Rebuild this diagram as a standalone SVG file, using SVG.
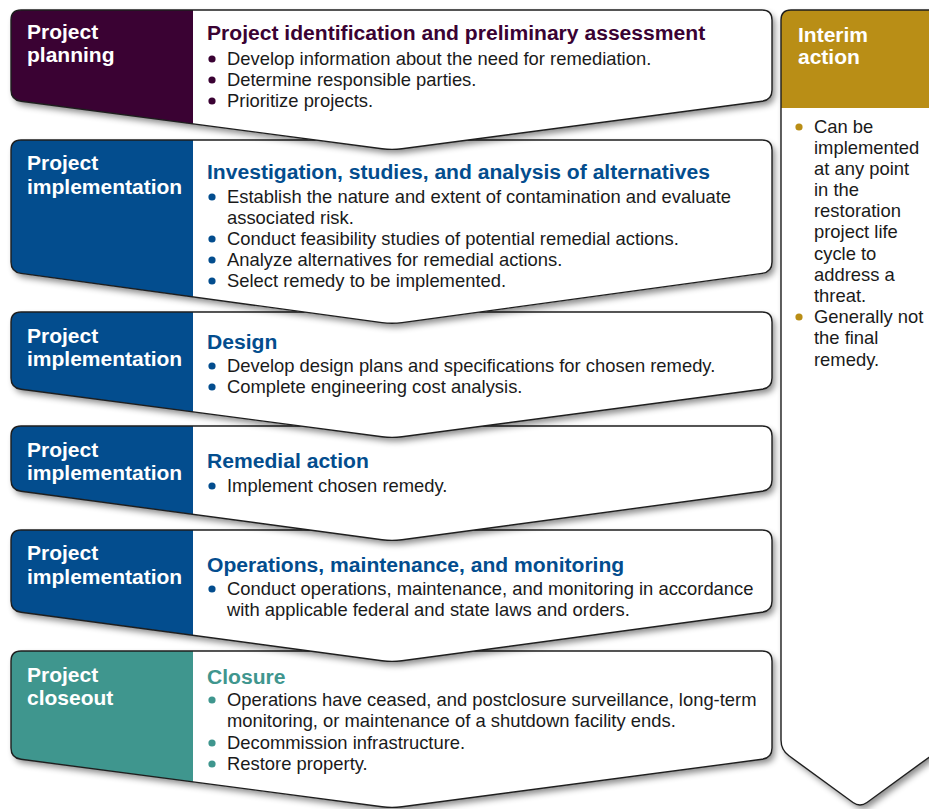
<svg xmlns="http://www.w3.org/2000/svg" width="929" height="809" viewBox="0 0 929 809">
<style>
text{font-family:"Liberation Sans",Arial,sans-serif}
.lbl{font-size:21px;font-weight:bold;fill:#ffffff}
.ttl{font-size:21.1px;font-weight:bold}
.txt{font-size:18.4px;fill:#1a1a1a}
.bg{fill:#ffffff;filter:url(#sh)}
.ol{fill:none;stroke:#1e1e1e;stroke-width:1.4}
.pu{fill:#3a0233}
.bl{fill:#034d8e}
.te{fill:#3f968e}
.go{fill:#b98e16}
</style>
<defs>
<filter id="sh" x="-10%" y="-10%" width="130%" height="140%">
<feDropShadow dx="3" dy="4" stdDeviation="3" flood-color="#000" flood-opacity="0.45"/>
</filter>
<path id="p1" d="M11,20 Q11,10 21,10 L762,10 Q772,10 772,20 L772,90 Q772,100 762,101.3 L402,148.7 Q392,150 382,148.7 L21,101.3 Q11,100 11,90 Z"/>
<path id="p2" d="M11,150 Q11,140 21,140 L762,140 Q772,140 772,150 L772,262 Q772,272 762,273.4 L402,322.6 Q392,324 382,322.6 L21,273.4 Q11,272 11,262 Z"/>
<path id="p3" d="M11,322 Q11,312 21,312 L762,312 Q772,312 772,322 L772,378 Q772,388 762,389.3 L402,436.7 Q392,438 382,436.7 L21,389.3 Q11,388 11,378 Z"/>
<path id="p4" d="M11,436 Q11,426 21,426 L762,426 Q772,426 772,436 L772,480 Q772,490 762,491.3 L402,539.7 Q392,541 382,539.7 L21,491.3 Q11,490 11,480 Z"/>
<path id="p5" d="M11,540 Q11,530 21,530 L762,530 Q772,530 772,540 L772,601 Q772,611 762,612.3 L402,660.7 Q392,662 382,660.7 L21,612.3 Q11,611 11,601 Z"/>
<path id="p6" d="M11,661 Q11,651 21,651 L762,651 Q772,651 772,661 L772,748 Q772,758 762,759.3 L402,806.7 Q392,808 382,806.7 L21,759.3 Q11,758 11,748 Z"/>
<path id="p7" d="M781,20 Q781,10 791,10 L929,10 Q939,10 939,20 L939,750 L867,802.5 Q860,807.5 853,802.5 L789,755.8 Q781,750 781,740 Z"/>
<clipPath id="k1"><use href="#p1"/></clipPath>
<clipPath id="k2"><use href="#p2"/></clipPath>
<clipPath id="k3"><use href="#p3"/></clipPath>
<clipPath id="k4"><use href="#p4"/></clipPath>
<clipPath id="k5"><use href="#p5"/></clipPath>
<clipPath id="k6"><use href="#p6"/></clipPath>
<clipPath id="k7"><use href="#p7"/></clipPath>
</defs>

<g id="connectors"/>

<g id="interim-action">
<use href="#p7" class="bg"/>
<rect class="go" x="770" y="0" width="180" height="108" clip-path="url(#k7)"/>
<use href="#p7" class="ol"/>
<text class="lbl" x="798" y="42">Interim</text>
<text class="lbl" x="798" y="64">action</text>
<circle class="go" cx="799" cy="127" r="3.6"/>
<text class="txt" x="814" y="133">Can be</text>
<text class="txt" x="814" y="154">implemented</text>
<text class="txt" x="814" y="175">at any point</text>
<text class="txt" x="814" y="196">in the</text>
<text class="txt" x="814" y="217">restoration</text>
<text class="txt" x="814" y="238">project life</text>
<text class="txt" x="814" y="260">cycle to</text>
<text class="txt" x="814" y="281">address a</text>
<text class="txt" x="814" y="302">threat.</text>
<circle class="go" cx="799" cy="317" r="3.6"/>
<text class="txt" x="814" y="323">Generally not</text>
<text class="txt" x="814" y="344">the final</text>
<text class="txt" x="814" y="366">remedy.</text>
</g>

<g id="closure">
<use href="#p6" class="bg"/>
<rect class="te" x="0" y="651" width="193" height="158" clip-path="url(#k6)"/>
<use href="#p6" class="ol"/>
<text class="lbl" x="27" y="682">Project</text>
<text class="lbl" x="27" y="705">closeout</text>
<text class="ttl te" x="207" y="684">Closure</text>
<circle class="te" cx="212" cy="700" r="3.6"/>
<text class="txt" x="227" y="706">Operations have ceased, and postclosure surveillance, long-term</text>
<text class="txt" x="227" y="727">monitoring, or maintenance of a shutdown facility ends.</text>
<circle class="te" cx="212" cy="743" r="3.6"/>
<text class="txt" x="227" y="749">Decommission infrastructure.</text>
<circle class="te" cx="212" cy="764" r="3.6"/>
<text class="txt" x="227" y="770">Restore property.</text>
</g>

<g id="operations">
<use href="#p5" class="bg"/>
<rect class="bl" x="0" y="530" width="193" height="140" clip-path="url(#k5)"/>
<use href="#p5" class="ol"/>
<text class="lbl" x="27" y="560">Project</text>
<text class="lbl" x="27" y="584">implementation</text>
<text class="ttl bl" x="207" y="572">Operations, maintenance, and monitoring</text>
<circle class="bl" cx="212" cy="589" r="3.6"/>
<text class="txt" x="227" y="595">Conduct operations, maintenance, and monitoring in accordance</text>
<text class="txt" x="227" y="616">with applicable federal and state laws and orders.</text>
</g>

<g id="remedial-action">
<use href="#p4" class="bg"/>
<rect class="bl" x="0" y="426" width="193" height="120" clip-path="url(#k4)"/>
<use href="#p4" class="ol"/>
<text class="lbl" x="27" y="457">Project</text>
<text class="lbl" x="27" y="480">implementation</text>
<text class="ttl bl" x="207" y="468">Remedial action</text>
<circle class="bl" cx="212" cy="486" r="3.6"/>
<text class="txt" x="227" y="492">Implement chosen remedy.</text>
</g>

<g id="design">
<use href="#p3" class="bg"/>
<rect class="bl" x="0" y="312" width="193" height="130" clip-path="url(#k3)"/>
<use href="#p3" class="ol"/>
<text class="lbl" x="27" y="343">Project</text>
<text class="lbl" x="27" y="366">implementation</text>
<text class="ttl bl" x="207" y="349">Design</text>
<circle class="bl" cx="212" cy="366" r="3.6"/>
<text class="txt" x="227" y="372">Develop design plans and specifications for chosen remedy.</text>
<circle class="bl" cx="212" cy="387" r="3.6"/>
<text class="txt" x="227" y="393">Complete engineering cost analysis.</text>
</g>

<g id="investigation">
<use href="#p2" class="bg"/>
<rect class="bl" x="0" y="140" width="193" height="190" clip-path="url(#k2)"/>
<use href="#p2" class="ol"/>
<text class="lbl" x="27" y="170">Project</text>
<text class="lbl" x="27" y="194">implementation</text>
<text class="ttl bl" x="207" y="179">Investigation, studies, and analysis of alternatives</text>
<circle class="bl" cx="212" cy="197" r="3.6"/>
<text class="txt" x="227" y="203">Establish the nature and extent of contamination and evaluate</text>
<text class="txt" x="227" y="224">associated risk.</text>
<circle class="bl" cx="212" cy="239" r="3.6"/>
<text class="txt" x="227" y="245">Conduct feasibility studies of potential remedial actions.</text>
<circle class="bl" cx="212" cy="260" r="3.6"/>
<text class="txt" x="227" y="266">Analyze alternatives for remedial actions.</text>
<circle class="bl" cx="212" cy="281" r="3.6"/>
<text class="txt" x="227" y="287">Select remedy to be implemented.</text>
</g>

<g id="identification">
<use href="#p1" class="bg"/>
<rect class="pu" x="0" y="10" width="193" height="145" clip-path="url(#k1)"/>
<use href="#p1" class="ol"/>
<text class="lbl" x="27" y="39">Project</text>
<text class="lbl" x="27" y="62">planning</text>
<text class="ttl pu" x="207" y="40">Project identification and preliminary assessment</text>
<circle class="pu" cx="212" cy="59" r="3.6"/>
<text class="txt" x="227" y="65">Develop information about the need for remediation.</text>
<circle class="pu" cx="212" cy="80" r="3.6"/>
<text class="txt" x="227" y="86">Determine responsible parties.</text>
<circle class="pu" cx="212" cy="101" r="3.6"/>
<text class="txt" x="227" y="107">Prioritize projects.</text>
</g>
</svg>
